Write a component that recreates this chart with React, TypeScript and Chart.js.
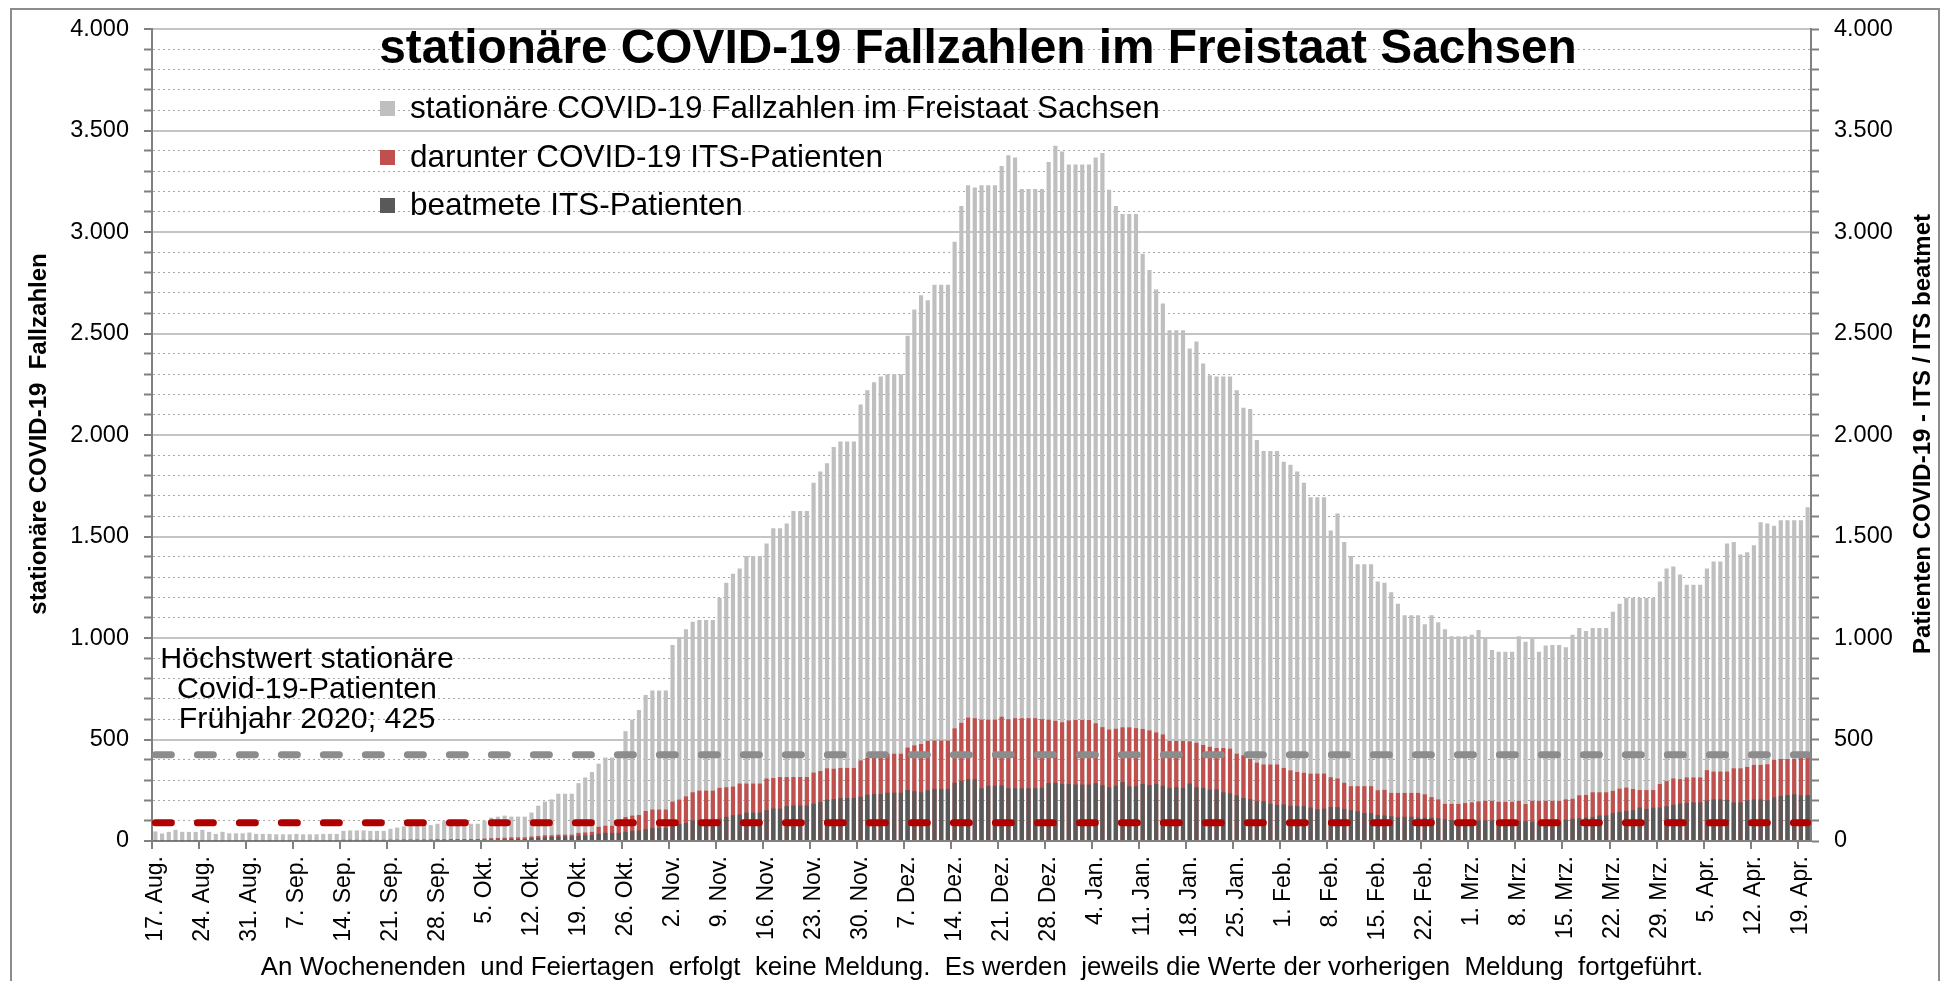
import React, { useEffect, useRef } from 'react';
import { Chart, registerables } from 'chart.js';

Chart.register(...registerables);

const FONT = "'Liberation Sans', Arial, Helvetica, sans-serif";

const TITLE = 'stationäre COVID-19 Fallzahlen im Freistaat Sachsen';
const SERIES_NAMES = [
  'stationäre COVID-19 Fallzahlen im Freistaat Sachsen',
  'darunter COVID-19 ITS-Patienten',
  'beatmete ITS-Patienten',
];
const Y_LEFT_TITLE = 'stationäre COVID-19  Fallzahlen';
const Y_RIGHT_TITLE = 'Patienten COVID-19 - ITS / ITS beatmet';
const NOTE_LINES = ['Höchstwert stationäre', 'Covid-19-Patienten', 'Frühjahr 2020; 425'];
const FOOTNOTE =
  'An Wochenenden  und Feiertagen  erfolgt  keine Meldung.  Es werden  jeweils die Werte der vorherigen  Meldung  fortgeführt.';

const MONTH_ABBR = ['Jan.', 'Feb.', 'Mrz.', 'Apr.', 'Mai', 'Jun.', 'Jul.', 'Aug.', 'Sep.', 'Okt.', 'Nov.', 'Dez.'];
const START_DATE = [2020, 7, 17];
const DAY_COUNT = 247;

const WEEK_LABELS = [
  '17. Aug.', '24. Aug.', '31. Aug.', '7. Sep.', '14. Sep.', '21. Sep.', '28. Sep.',
  '5. Okt.', '12. Okt.', '19. Okt.', '26. Okt.', '2. Nov.', '9. Nov.', '16. Nov.',
  '23. Nov.', '30. Nov.', '7. Dez.', '14. Dez.', '21. Dez.', '28. Dez.', '4. Jan.',
  '11. Jan.', '18. Jan.', '25. Jan.', '1. Feb.', '8. Feb.', '15. Feb.', '22. Feb.',
  '1. Mrz.', '8. Mrz.', '15. Mrz.', '22. Mrz.', '29. Mrz.', '5. Apr.', '12. Apr.', '19. Apr.',
];

// stationäre Fallzahlen (daily, Mon..Sun per row)
const TOTAL = [
  47, 37, 45, 55, 45, 45, 45,
  55, 45, 35, 45, 38, 38, 38,
  42, 35, 35, 35, 33, 33, 33,
  35, 33, 33, 33, 35, 35, 35,
  50, 52, 52, 52, 50, 50, 50,
  60, 66, 72, 82, 78, 78, 78,
  85, 98, 88, 88, 85, 85, 85,
  100, 115, 120, 125, 120, 120, 120,
  140, 174, 194, 205, 233, 233, 233,
  285, 313, 340, 381, 411, 411, 411,
  541, 598, 646, 719, 742, 742, 742,
  966, 1005, 1043, 1080, 1089, 1089, 1089,
  1199, 1272, 1317, 1342, 1404, 1404, 1404,
  1466, 1541, 1541, 1564, 1626, 1626, 1626,
  1765, 1820, 1861, 1941, 1968, 1968, 1968,
  2151, 2221, 2260, 2288, 2299, 2299, 2299,
  2489, 2619, 2689, 2664, 2740, 2740, 2740,
  2952, 3128, 3231, 3219, 3231, 3231, 3231,
  3326, 3379, 3368, 3212, 3212, 3212, 3212,
  3345, 3425, 3397, 3333, 3333, 3333, 3333,
  3368, 3390, 3208, 3128, 3089, 3089, 3089,
  2893, 2813, 2717, 2648, 2516, 2516, 2516,
  2427, 2461, 2352, 2295, 2288, 2288, 2288,
  2221, 2135, 2128, 1975, 1922, 1922, 1922,
  1868, 1854, 1820, 1765, 1694, 1694, 1694,
  1530, 1614, 1473, 1404, 1363, 1363, 1363,
  1279, 1272, 1226, 1169, 1112, 1112, 1112,
  1068, 1112, 1078, 1043, 1009, 1009, 1009,
  1016, 1039, 998, 941, 932, 932, 932,
  1009, 982, 998, 932, 963, 966, 966,
  955, 1016, 1050, 1034, 1050, 1050, 1050,
  1130, 1169, 1199, 1199, 1199, 1199, 1199,
  1279, 1342, 1352, 1313, 1263, 1263, 1263,
  1342, 1377, 1377, 1466, 1473, 1411, 1422,
  1457, 1571, 1564, 1553, 1580, 1580, 1580,
  1580, 1644,
];

// darunter ITS-Patienten
const ITS = [
  5, 5, 5, 5, 5, 5, 5,
  5, 5, 5, 5, 5, 5, 5,
  5, 5, 5, 5, 5, 5, 5,
  5, 5, 5, 5, 5, 5, 5,
  6, 6, 6, 6, 6, 6, 6,
  7, 7, 8, 8, 8, 8, 8,
  9, 9, 10, 10, 10, 10, 10,
  12, 14, 15, 16, 18, 18, 18,
  22, 25, 28, 28, 31, 31, 31,
  40, 42, 45, 70, 75, 75, 75,
  118, 125, 128, 148, 155, 155, 155,
  194, 204, 220, 240, 248, 248, 248,
  262, 265, 268, 283, 283, 283, 283,
  308, 310, 315, 315, 315, 315, 315,
  337, 345, 358, 356, 360, 360, 360,
  397, 410, 415, 425, 430, 430, 430,
  460, 471, 478, 494, 495, 495, 495,
  555, 582, 608, 605, 598, 598, 598,
  612, 600, 605, 605, 605, 605, 600,
  598, 592, 585, 594, 596, 596, 596,
  580, 561, 549, 553, 560, 560, 556,
  552, 545, 535, 525, 493, 493, 493,
  491, 484, 473, 464, 458, 458, 455,
  430, 422, 404, 386, 377, 377, 377,
  360, 348, 340, 336, 332, 332, 332,
  314, 308, 287, 270, 270, 270, 270,
  250, 252, 237, 237, 237, 237, 237,
  230, 216, 205, 183, 183, 183, 187,
  190, 195, 198, 198, 193, 193, 193,
  198, 182, 198, 198, 198, 198, 198,
  205, 208, 225, 227, 240, 240, 240,
  247, 258, 263, 256, 251, 251, 251,
  281, 295, 308, 305, 313, 313, 313,
  349, 342, 342, 342, 358, 358, 365,
  375, 375, 378, 400, 404, 404, 404,
  411, 411,
];

// beatmete ITS-Patienten
const VENT = [
  3, 3, 3, 3, 3, 3, 3,
  3, 3, 3, 3, 3, 3, 3,
  3, 3, 3, 3, 3, 3, 3,
  3, 3, 3, 3, 3, 3, 3,
  3, 3, 3, 3, 3, 3, 3,
  4, 4, 4, 4, 4, 4, 4,
  4, 4, 5, 5, 5, 5, 5,
  6, 7, 8, 8, 10, 10, 10,
  14, 16, 18, 20, 22, 22, 22,
  26, 28, 30, 35, 40, 40, 40,
  45, 50, 52, 58, 64, 64, 64,
  75, 84, 89, 102, 104, 104, 104,
  110, 119, 127, 130, 140, 140, 140,
  152, 160, 160, 172, 175, 175, 175,
  184, 192, 204, 207, 212, 212, 212,
  218, 228, 232, 232, 238, 238, 238,
  251, 245, 240, 250, 257, 257, 257,
  287, 296, 305, 304, 260, 272, 272,
  274, 260, 260, 260, 260, 260, 262,
  285, 287, 281, 281, 278, 278, 278,
  285, 275, 265, 272, 290, 270, 270,
  281, 276, 281, 272, 262, 265, 262,
  283, 265, 262, 253, 255, 240, 235,
  225, 212, 206, 196, 196, 183, 178,
  180, 173, 172, 172, 165, 156, 160,
  168, 167, 158, 152, 146, 138, 138,
  128, 126, 122, 117, 119, 119, 115,
  114, 115, 112, 108, 103, 103, 103,
  102, 102, 102, 101, 101, 101, 101,
  100, 97, 95, 92, 96, 96, 96,
  105, 110, 112, 115, 118, 126, 126,
  137, 143, 148, 152, 165, 158, 164,
  165, 171, 178, 185, 188, 190, 190,
  199, 205, 205, 203, 190, 190, 200,
  205, 205, 200, 215, 222, 226, 230,
  225, 226,
];

const REF_TOTAL = 425;
const REF_ITS = 90;

const COLORS = ['#bfbfbf', '#c0504d', '#595959'];
const REF_COLORS = ['#8c8c8c', '#b00000'];

function makeDays(): string[] {
  const out: string[] = [];
  for (let i = 0; i < DAY_COUNT; i++) {
    const d = new Date(START_DATE[0], START_DATE[1], START_DATE[2] + i);
    out.push(`${d.getDate()}. ${MONTH_ABBR[d.getMonth()]}`);
  }
  return out;
}

function fmt(v: number): string {
  return String(v).replace(/\B(?=(\d{3})+(?!\d))/g, '.');
}

function fitSize(ctx: CanvasRenderingContext2D, text: string, weight: string, target: number): number {
  ctx.font = `${weight} 100px ${FONT}`;
  const w = ctx.measureText(text).width;
  return (100 * target) / w;
}

function drawVerticalTitle(ctx: CanvasRenderingContext2D, text: string, cx: number, cy: number, size: number) {
  ctx.save();
  ctx.font = `bold ${size}px ${FONT}`;
  ctx.translate(cx, cy);
  ctx.rotate(-Math.PI / 2);
  ctx.textAlign = 'center';
  ctx.textBaseline = 'middle';
  ctx.fillText(text, 0, 0);
  ctx.restore();
}

const overlayPlugin = {
  id: 'overlay',
  beforeDraw(chart: any) {
    const { ctx, width, height } = chart;
    ctx.save();
    ctx.fillStyle = '#ffffff';
    ctx.fillRect(0, 0, width, height);
    ctx.restore();
  },
  afterDraw(chart: any) {
    const ctx: CanvasRenderingContext2D = chart.ctx;
    ctx.save();
    // outer frame
    ctx.strokeStyle = '#8c8c8c';
    ctx.lineWidth = 2;
    ctx.strokeRect(11, 9, 1928, 1000);

    ctx.fillStyle = '#000';
    ctx.textBaseline = 'middle';

    // title
    const ts = fitSize(ctx, TITLE, 'bold', 1198);
    ctx.font = `bold ${ts}px ${FONT}`;
    ctx.textAlign = 'center';
    ctx.fillText(TITLE, 978, 50);

    // legend
    const ls = fitSize(ctx, SERIES_NAMES[0], 'normal', 750);
    const rows = [108, 157, 205];
    rows.forEach((y, i) => {
      ctx.fillStyle = COLORS[i];
      ctx.fillRect(380, y - 7, 15, 15);
      ctx.fillStyle = '#000';
      ctx.font = `${ls}px ${FONT}`;
      ctx.textAlign = 'left';
      ctx.fillText(SERIES_NAMES[i], 410, y + 1);
    });

    // annotation
    const ns = fitSize(ctx, NOTE_LINES[1], 'normal', 260);
    ctx.font = `${ns}px ${FONT}`;
    ctx.textAlign = 'center';
    const noteY = [660, 690, 720];
    NOTE_LINES.forEach((t, i) => ctx.fillText(t, 307, noteY[i]));

    // footnote
    const fs = fitSize(ctx, FOOTNOTE, 'normal', 1443);
    ctx.font = `${fs}px ${FONT}`;
    ctx.fillText(FOOTNOTE, 982, 968);

    // axis titles
    drawVerticalTitle(ctx, Y_LEFT_TITLE, 39, 434, 24);
    drawVerticalTitle(ctx, Y_RIGHT_TITLE, 1923, 434, 24);

    ctx.restore();
  },
};

const isMajor = (v: number) => v % 500 === 0;

export default function App() {
  const ref = useRef<HTMLCanvasElement | null>(null);

  useEffect(() => {
    const canvas = ref.current;
    if (!canvas) return;
    const days = makeDays();
    const first = days[0];
    const last = days[days.length - 1];

    const barCommon = {
      type: 'bar' as const,
      grouped: false,
      barPercentage: 0.62,
      categoryPercentage: 1,
      yAxisID: 'y',
    };

    const yTicks = {
      stepSize: 100,
      maxTicksLimit: 41,
      autoSkip: false,
      color: '#000',
      padding: 15,
      font: { family: FONT, size: 23.5 },
      callback: (v: any) => (isMajor(Number(v)) ? fmt(Number(v)) : ''),
    };

    const chart = new Chart(canvas, {
      type: 'bar',
      data: {
        labels: days,
        datasets: [
          { ...barCommon, label: SERIES_NAMES[0], data: TOTAL, backgroundColor: COLORS[0], order: 3 },
          { ...barCommon, label: SERIES_NAMES[1], data: ITS, backgroundColor: COLORS[1], order: 2 },
          { ...barCommon, label: SERIES_NAMES[2], data: VENT, backgroundColor: COLORS[2], order: 1 },
          {
            type: 'line',
            label: 'ref1',
            data: [{ x: first, y: REF_TOTAL }, { x: last, y: REF_TOTAL }],
            borderColor: REF_COLORS[0],
            borderWidth: 7,
            borderDash: [16, 26],
            borderCapStyle: 'round',
            pointRadius: 0,
            order: 0,
            yAxisID: 'y',
          },
          {
            type: 'line',
            label: 'ref2',
            data: [{ x: first, y: REF_ITS }, { x: last, y: REF_ITS }],
            borderColor: REF_COLORS[1],
            borderWidth: 7,
            borderDash: [16, 26],
            borderCapStyle: 'round',
            pointRadius: 0,
            order: 0,
            yAxisID: 'y',
          },
        ] as any,
      },
      options: {
        responsive: false,
        animation: false,
        devicePixelRatio: 1,
        layout: { padding: { top: 27, left: 0, right: 0, bottom: 0 }, autoPadding: false } as any,
        plugins: { legend: { display: false }, tooltip: { enabled: false }, title: { display: false } },
        scales: {
          x: {
            type: 'category',
            offset: true,
            afterFit: (s: any) => {
              s.height = 140;
            },
            ticks: {
              autoSkip: false,
              minRotation: 90,
              maxRotation: 90,
              padding: 7,
              color: '#000',
              font: { family: FONT, size: 23 },
              callback: (_v: any, i: number) => (i % 7 === 0 ? WEEK_LABELS[i / 7] : ''),
            },
            grid: {
              offset: true,
              drawOnChartArea: false,
              drawTicks: true,
              tickLength: 8,
              lineWidth: 2,
              color: (c: any) => (c.index % 7 === 0 ? '#808080' : 'rgba(0,0,0,0)'),
            },
            border: { display: true, color: '#808080', width: 2 },
          },
          y: {
            type: 'linear',
            position: 'left',
            min: 0,
            max: 4000,
            afterFit: (s: any) => {
              s.width = 152;
            },
            ticks: yTicks,
            grid: {
              drawOnChartArea: true,
              drawTicks: true,
              tickLength: 8,
              color: (c: any) => (isMajor(c.tick.value) ? '#c4c4c4' : '#a8a8a8'),
              lineWidth: (c: any) => (isMajor(c.tick.value) ? 2 : 1),
              tickColor: '#808080',
              tickWidth: 2,
            },
            border: {
              display: true,
              color: '#808080',
              width: 2,
              dash: (c: any) => (c.tick && !isMajor(c.tick.value) ? [2, 3] : []),
            },
          },
          y2: {
            type: 'linear',
            position: 'right',
            min: 0,
            max: 4000,
            afterFit: (s: any) => {
              s.width = 139;
            },
            ticks: yTicks,
            grid: {
              drawOnChartArea: false,
              drawTicks: true,
              tickLength: 8,
              tickColor: '#808080',
              tickWidth: 2,
            },
            border: { display: true, color: '#808080', width: 2 },
          },
        },
      } as any,
      plugins: [overlayPlugin],
    });
    return () => chart.destroy();
  }, []);

  return (
    <div style={{ position: 'fixed', left: 0, top: 0, width: 1950, height: 981, background: '#fff' }}>
      <canvas ref={ref} width={1950} height={981} style={{ display: 'block' }} />
    </div>
  );
}
